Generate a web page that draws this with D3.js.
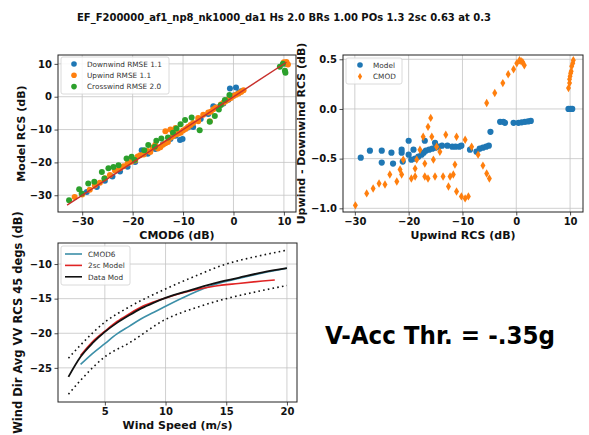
<!DOCTYPE html>
<html>
<head>
<meta charset="utf-8">
<script src="https://cdn.jsdelivr.net/npm/d3@7"></script>
<style>
  body { margin: 0; background: #fff; }
  text { font-family: "DejaVu Sans", sans-serif; }
</style>
</head>
<body>
<svg width="589" height="435"></svg>
<script>
// chart values
const titleText = "EF_F200000_af1_np8_nk1000_da1 Hs 2.0 BRs 1.00 POs 1.3 2sc 0.63 at 0.3";

// panel 1: model vs cmod6, [cmod6, model]
const downwindPts = [[-29.1,-29],[-27.1,-27.5],[-25.5,-25.6],[-24,-24.3],[-22.5,-22.8],[-21,-21.3],[-19.5,-19.9],
  [-18.2,-16.3],[-17,-17.4],[-15.5,-15.9],[-14,-14.5],[-12.5,-12.9],[-11.5,-11.9],[-10.6,-13.2],[-10.1,-12.9],
  [-9,-9.4],[-8,-9.2],[-6.5,-6.8],[-5,-5.3],[-4,-2.9],[-3,-3.2],[-2,-2.1],[-1,-0.9],[-0.7,2.5],[0,0.4],[0.5,2.8],
  [1,1.2],[1.5,1.7],[10,10.2],[10.4,10]];
const upwindPts = [[-31.5,-30.5],[-30,-29.8],[-28.5,-28.3],[-27.5,-27],[-26.5,-26.2],[-25.5,-24.8],[-24.5,-23.8],
  [-23.5,-22.5],[-22.5,-21.8],[-21.8,-21.2],[-21,-20.3],[-20.3,-19.8],[-19.5,-19.4],[-19,-18.2],[-18.5,-17.8],
  [-17.8,-17.6],[-17,-16.5],[-16.5,-16.8],[-16,-15.5],[-15.5,-14.6],[-15,-15.8],[-14.5,-15.4],[-14,-14.6],
  [-13.5,-14.2],[-13,-13.8],[-12.5,-12.5],[-12,-12],[-11.5,-11.5],[-11,-11.3],[-10.5,-11],[-10,-10.3],
  [-9.5,-9.8],[-9,-9.2],[-8.5,-8.6],[-8,-8],[-7,-6.5],[-6,-5.5],[-5,-4.8],[-4.7,-7.5],[-4.5,-4.6],[-3.5,-3.3],
  [-2.5,-2.4],[-2,-1.8],[-1.5,-1.3],[-1,-0.8],[-0.5,-0.4],[0,0.2],[0.5,0.6],[1,1],[1.5,1.4],[2,2],
  [-13.5,-10.5],[-12.5,-10],[-11.5,-9.5],[-7,-7.5],[-4,-3.8],
  [10,10.5],[10.3,10.2],[10.6,10],[10.8,9.8],[10.5,10.6]];
const crosswindPts = [[-32.6,-31.5],[-30.6,-28.2],[-30.1,-29.5],[-28.8,-26.4],[-27.6,-25.9],[-26.1,-22.9],
  [-25.6,-24.9],[-24.8,-21.8],[-23.8,-21.4],[-22.8,-20.9],[-21.2,-18.8],[-20.2,-18.3],[-19.6,-19.3],
  [-17.7,-16.3],[-16.9,-14.7],[-15.6,-15.2],[-15.3,-13.4],[-14.3,-12.7],[-13,-12.4],[-12,-11],[-11.3,-9.7],
  [-10.5,-8.4],[-9.6,-7.1],[-8.3,-6.3],[-6.7,-10.2],[-4.7,-7.6],[-3.7,-5.9],[-2.9,-3.9],[-2.5,-2.5],
  [-1.7,-1],[-0.8,0.5],[9.2,9.1],[9.8,10],[10.2,7.9],[10.3,7.3]];
const fitLine = [-33, 10.5];
const scatterLegend = ["Downwind RMSE 1.1", "Upwind RMSE 1.1", "Crosswind RMSE 2.0"];

// panel 2: upwind minus downwind, [upwind rcs, diff]
const modelDiff = [[-28.9,-0.49],[-27.2,-0.42],[-25,-0.42],[-25,-0.54],[-23.2,-0.44],[-22.9,-0.55],[-21.3,-0.41],
  [-21.3,-0.44],[-21.1,-0.53],[-20,-0.32],[-20,-0.46],[-19.5,-0.51],[-19.1,-0.41],[-18.8,-0.5],[-18.2,-0.48],
  [-17.6,-0.46],[-17.2,-0.44],[-17,-0.32],[-16.8,-0.42],[-16.2,-0.41],[-15.6,-0.4],[-15.1,-0.34],[-15,-0.39],
  [-14.4,-0.38],[-13.8,-0.37],[-12.8,-0.37],[-11.9,-0.38],[-11.3,-0.38],[-10.6,-0.38],[-10.2,-0.37],
  [-8.6,-0.41],[-7.4,-0.43],[-6.8,-0.4],[-6.2,-0.39],[-5.6,-0.38],[-5.1,-0.37],[-4.8,-0.23],
  [-3,-0.13],[-2.4,-0.13],[-2.1,-0.14],[-0.5,-0.14],[0.4,-0.14],[1,-0.135],[1.6,-0.13],[2.2,-0.125],[2.7,-0.12],
  [9.7,0.0],[10.1,0.0],[10.4,0.0]];
const cmodDiff = [[-29.9,-0.97],[-27.8,-0.85],[-26.6,-0.8],[-25.5,-0.75],[-24.4,-0.76],[-23.5,-0.66],[-22.2,-0.73],
  [-21.6,-0.61],[-21.3,-0.66],[-21,-0.51],[-19.5,-0.7],[-18.8,-0.68],[-18.8,-0.6],[-18.5,-0.51],[-17.9,-0.41],
  [-17.3,-0.28],[-17,-0.55],[-17,-0.68],[-16.4,-0.18],[-16.4,-0.7],[-15.9,-0.09],[-15.7,-0.28],[-15.4,-0.51],
  [-15.1,-0.68],[-14.8,-0.38],[-14.2,-0.43],[-13.6,-0.68],[-13.1,-0.26],[-12.6,-0.78],[-12.3,-0.68],
  [-11.7,-0.66],[-11.4,-0.56],[-11.1,-0.28],[-11.1,-0.83],[-10.2,-0.88],[-9.5,-0.9],[-8.9,-0.88],[-9.5,-0.31],
  [-8.3,-0.38],[-7.1,-0.46],[-6.2,-0.57],[-5.5,-0.65],[-5,-0.7],[-5.5,0.06],[-4,0.16],[-2.5,0.26],[-1.5,0.35],
  [-0.5,0.4],[0.1,0.46],[0.6,0.49],[0.9,0.48],[1.2,0.47],[1.5,0.44],
  [9.7,0.21],[9.9,0.26],[9.9,0.3],[10,0.33],[10.1,0.36],[10.2,0.38],[10.3,0.43],[10.5,0.46],[10.6,0.49]];
const diffLegend = ["Model", "CMOD"];

// panel 3: rcs vs wind speed
const cmod6Speed = [3,4,5,6,7,8,9,10,12,14,16,18,20];
const cmod6Rcs = [-24.5,-22.9,-21.5,-20.1,-19.0,-17.9,-17.0,-16.1,-14.4,-13.0,-12.1,-11.3,-10.6];
const modelSpeed = [3,4,5,6,7,8,9,10,12,14,16,18,19];
const modelRcs = [-23.2,-21.2,-19.7,-18.3,-17.2,-16.2,-15.5,-14.9,-13.9,-13.2,-12.8,-12.45,-12.3];
const dataSpeed = [2,3,4,5,6,7,8,9,10,12,14,16,18,20];
const dataRcs = [-26.3,-23.4,-21.4,-19.8,-18.5,-17.4,-16.4,-15.6,-14.9,-13.8,-12.8,-12.0,-11.2,-10.6];
const boundSpeed = [2,3,5,7,10,12.5,15,17.5,20];
const upperRcs = [-23.6,-21.7,-18.4,-16.2,-13.6,-11.7,-10.0,-8.9,-8.0];
const lowerRcs = [-28.8,-26.8,-23.4,-21.4,-18.0,-16.3,-15.0,-14.0,-13.1];
const speedLegend = ["CMOD6", "2sc Model", "Data Mod"];

const noteText = "V-Acc Thr. = -.35g";

const svg = d3.select('svg');
svg.append('rect').attr('width', 589).attr('height', 435).attr('fill', '#fff');

const blue = '#1f77b4', orange = '#ff7f0e', green = '#2ca02c';

// draws frame, grid, ticks for one panel
function panel(box, xDom, yDom, xTicks, yTicks, fmtY) {
  const x = d3.scaleLinear().domain(xDom).range([box.l, box.r]);
  const y = d3.scaleLinear().domain(yDom).range([box.b, box.t]);
  const g = svg.append('g');
  g.append('g').selectAll('line').data(xTicks).enter().append('line')
    .attr('x1', d => x(d)).attr('x2', d => x(d)).attr('y1', box.t).attr('y2', box.b)
    .attr('stroke', '#c4c4c4').attr('stroke-width', 0.8);
  g.append('g').selectAll('line').data(yTicks).enter().append('line')
    .attr('y1', d => y(d)).attr('y2', d => y(d)).attr('x1', box.l).attr('x2', box.r)
    .attr('stroke', '#c4c4c4').attr('stroke-width', 0.8);
  const plot = g.append('g');
  const xa = g.append('g').attr('transform', `translate(0,${box.b})`)
    .call(d3.axisBottom(x).tickValues(xTicks).tickSize(3.5).tickPadding(2.5));
  const ya = g.append('g').attr('transform', `translate(${box.l},0)`)
    .call(d3.axisLeft(y).tickValues(yTicks).tickSize(3.5).tickPadding(2.5).tickFormat(fmtY || d3.format('d')));
  [xa, ya].forEach(a => {
    a.select('.domain').remove();
    a.selectAll('text').attr('font-size', 10).attr('font-weight', 'bold')
      .attr('font-family', '"DejaVu Sans", sans-serif').attr('fill', '#111');
    a.selectAll('line').attr('stroke', '#222').attr('stroke-width', 0.8);
  });
  g.append('rect').attr('x', box.l).attr('y', box.t)
    .attr('width', box.r - box.l).attr('height', box.b - box.t)
    .attr('fill', 'none').attr('stroke', '#222').attr('stroke-width', 1);
  return {x, y, plot, g};
}

function axisLabels(box, xl, yl, yOff, size) {
  svg.append('text').text(xl).attr('x', (box.l + box.r) / 2).attr('y', box.b + 27)
    .attr('text-anchor', 'middle').attr('font-size', 11).attr('font-weight', 'bold').attr('fill', '#111');
  svg.append('text').text(yl)
    .attr('transform', `translate(${box.l - yOff},${(box.t + box.b) / 2}) rotate(-90)`)
    .attr('text-anchor', 'middle').attr('font-size', size || 11).attr('font-weight', 'bold').attr('fill', '#111');
}

function legendBox(x0, y0, w, h) {
  svg.append('rect').attr('x', x0).attr('y', y0).attr('width', w).attr('height', h)
    .attr('rx', 2).attr('fill', '#fff').attr('fill-opacity', 0.85)
    .attr('stroke', '#d0d0d0').attr('stroke-width', 0.8);
}

// title
svg.append('text').text(titleText).attr('x', 284).attr('y', 21)
  .attr('text-anchor', 'middle').attr('font-size', 10).attr('font-weight', 'bold').attr('fill', '#111');

// ---- panel 1
const b1 = {l: 58, r: 296, t: 55, b: 212};
const p1 = panel(b1, [-34.8, 12.4], [-35.1, 12.7], [-30, -20, -10, 0, 10], [10, 0, -10, -20, -30]);
[[downwindPts, blue], [upwindPts, orange], [crosswindPts, green]].forEach(([pts, c]) => {
  p1.plot.append('g').selectAll('circle').data(pts).enter().append('circle')
    .attr('cx', d => p1.x(d[0])).attr('cy', d => p1.y(d[1])).attr('r', 3).attr('fill', c);
});
p1.plot.append('line')
  .attr('x1', p1.x(fitLine[0])).attr('y1', p1.y(fitLine[0]))
  .attr('x2', p1.x(fitLine[1])).attr('y2', p1.y(fitLine[1]))
  .attr('stroke', '#c8302c').attr('stroke-width', 1.4);
axisLabels(b1, 'CMOD6 (dB)', 'Model RCS (dB)', 33);
legendBox(61, 57, 108, 37);
scatterLegend.forEach((t, i) => {
  const yy = 64 + i * 11.3;
  svg.append('circle').attr('cx', 74).attr('cy', yy).attr('r', 2.8).attr('fill', [blue, orange, green][i]);
  svg.append('text').text(t).attr('x', 87).attr('y', yy + 2.7).attr('font-size', 7.3).attr('fill', '#333');
});

// ---- panel 2
const b2 = {l: 343, r: 583, t: 55, b: 212};
const p2 = panel(b2, [-32.2, 12.4], [-1.037, 0.543], [-30, -20, -10, 0, 10], [0.5, 0, -0.5, -1.0], d3.format('.1f'));
p2.plot.append('g').selectAll('circle').data(modelDiff).enter().append('circle')
  .attr('cx', d => p2.x(d[0])).attr('cy', d => p2.y(d[1])).attr('r', 3.1).attr('fill', blue);
const diamond = 'M0,-4.2L2.5,0L0,4.2L-2.5,0Z';
p2.plot.append('g').selectAll('path').data(cmodDiff).enter().append('path')
  .attr('d', diamond).attr('transform', d => `translate(${p2.x(d[0])},${p2.y(d[1])})`).attr('fill', orange);
axisLabels(b2, 'Upwind RCS (dB)', 'Upwind - Downwind RCS (dB)', 38);
legendBox(346, 58, 56, 26);
svg.append('circle').attr('cx', 360).attr('cy', 65).attr('r', 2.8).attr('fill', blue);
svg.append('path').attr('d', diamond).attr('transform', 'translate(360,76.5) scale(0.85)').attr('fill', orange);
diffLegend.forEach((t, i) => {
  svg.append('text').text(t).attr('x', 373).attr('y', 67.7 + i * 11.5).attr('font-size', 7.3).attr('fill', '#333');
});

// ---- panel 3
const b3 = {l: 58, r: 297, t: 243, b: 402};
const p3 = panel(b3, [1.14, 20.83], [-29.93, -6.96], [5, 10, 15, 20], [-10, -15, -20, -25]);
const line3 = (xs, ys) => d3.line().curve(d3.curveMonotoneX)
  .x((d, i) => p3.x(xs[i])).y(d => p3.y(d))(ys);
p3.plot.append('path').attr('d', line3(boundSpeed, upperRcs)).attr('fill', 'none')
  .attr('stroke', '#111').attr('stroke-width', 1.6).attr('stroke-dasharray', '1.6,3.2');
p3.plot.append('path').attr('d', line3(boundSpeed, lowerRcs)).attr('fill', 'none')
  .attr('stroke', '#111').attr('stroke-width', 1.6).attr('stroke-dasharray', '1.6,3.2');
p3.plot.append('path').attr('d', line3(cmod6Speed, cmod6Rcs)).attr('fill', 'none')
  .attr('stroke', '#3c8fa8').attr('stroke-width', 1.6);
p3.plot.append('path').attr('d', line3(modelSpeed, modelRcs)).attr('fill', 'none')
  .attr('stroke', '#e02424').attr('stroke-width', 1.6);
p3.plot.append('path').attr('d', line3(dataSpeed, dataRcs)).attr('fill', 'none')
  .attr('stroke', '#111').attr('stroke-width', 1.8);
axisLabels(b3, 'Wind Speed (m/s)', 'Wind Dir Avg VV RCS 45 degs (dB)', 36, 11.5);
legendBox(61, 246, 69, 39);
speedLegend.forEach((t, i) => {
  const yy = 254 + i * 11.4;
  svg.append('line').attr('x1', 65).attr('x2', 82).attr('y1', yy).attr('y2', yy)
    .attr('stroke', ['#3c8fa8', '#e02424', '#111'][i]).attr('stroke-width', 1.6);
  svg.append('text').text(t).attr('x', 88).attr('y', yy + 2.7).attr('font-size', 7.3).attr('fill', '#333');
});

// note text, size fitted so it spans about 230px
const note = svg.append('text').text(noteText)
  .attr('transform', 'translate(325,344) scale(1,1.06)')
  .attr('font-family', 'Lato, "Open Sans", sans-serif').attr('font-weight', 'bold')
  .attr('font-size', 30).attr('fill', '#000');
const natural = note.node().getComputedTextLength();
note.attr('font-size', Math.min(34, 30 * 230 / natural));
</script>
</body>
</html>
